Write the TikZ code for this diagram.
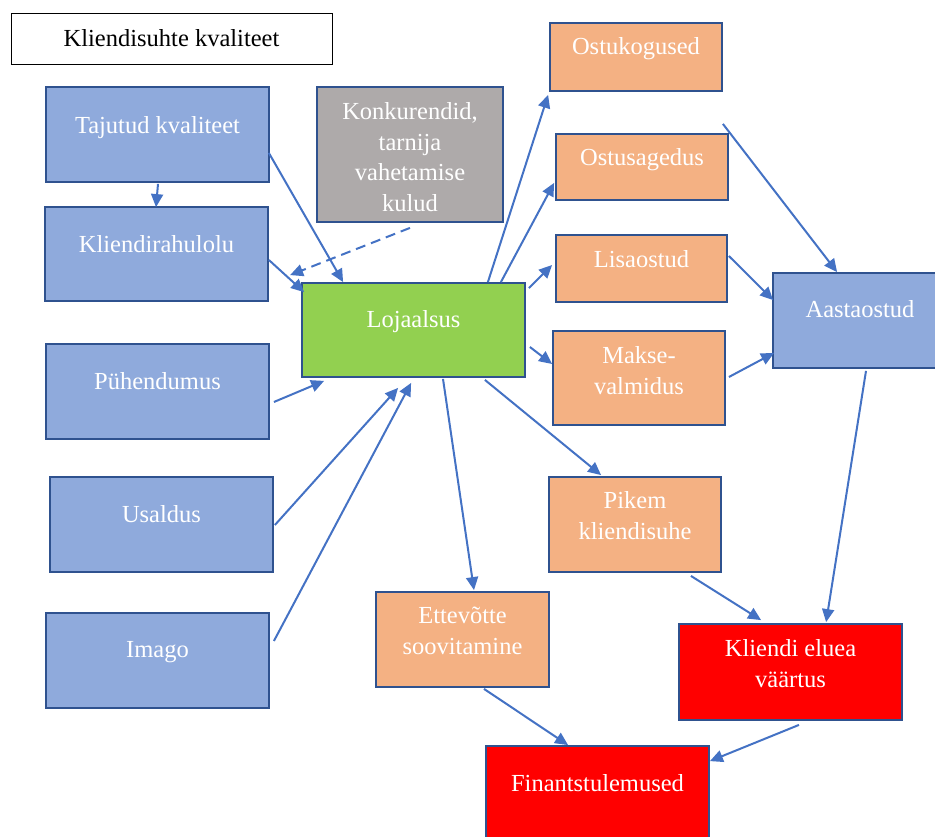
\documentclass[tikz,border=0pt]{standalone}
\usepackage{fontspec}
\setmainfont{Liberation Serif}
\usetikzlibrary{arrows.meta,calc}
\definecolor{bfill}{HTML}{8FAADC}
\definecolor{bdraw}{HTML}{2F528F}
\definecolor{ofill}{HTML}{F4B183}
\definecolor{gfill}{HTML}{92D050}
\definecolor{grfill}{HTML}{AEAAAA}
\definecolor{rfill}{HTML}{FF0000}
\definecolor{arr}{HTML}{4472C4}
\tikzset{
  box/.style={draw=bdraw, line width=1.8pt, rectangle, inner sep=0pt},
  bluebox/.style={box, fill=bfill},
  orbox/.style={box, fill=ofill},
  grbox/.style={box, fill=gfill},
  graybox/.style={box, fill=grfill},
  redbox/.style={box, fill=rfill},
  lbl/.style={anchor=base, text=white, align=center, inner sep=0pt,
    font=\fontsize{24.5}{30.5}\selectfont},
  conn/.style={draw=arr, line width=2pt, -{Triangle[length=13pt,width=12pt]}},
}
\begin{document}
\begin{tikzpicture}[x=1pt,y=-1pt]
\useasboundingbox (0,0) rectangle (935,837);
\clip (0,0) rectangle (935,837);
% title
\node[draw=black, line width=0.9pt, minimum width=321, minimum height=51, inner sep=0pt,
  font=\fontsize{24.5}{30.5}\selectfont] (title) at (171.5,38.5) {Kliendisuhte kvaliteet};
% boxes
\node[bluebox, minimum width=223, minimum height=95] (taj) at (157.5,134.5) {};
\node[bluebox, minimum width=223, minimum height=94] (kra) at (156.5,254) {};
\node[graybox, minimum width=186, minimum height=135] (kon) at (410,154.5) {};
\node[grbox, minimum width=223, minimum height=94] (loj) at (413.5,330) {};
\node[orbox, minimum width=172, minimum height=68] (ok) at (636,57) {};
\node[orbox, minimum width=172, minimum height=66] (os) at (642,167) {};
\node[orbox, minimum width=171, minimum height=67] (lis) at (641.5,268.5) {};
\node[orbox, minimum width=172, minimum height=94] (mak) at (639,378) {};
\node[bluebox, minimum width=174, minimum height=95] (aas) at (860,320.5) {};
\node[orbox, minimum width=172, minimum height=95] (pik) at (635,524.5) {};
\node[orbox, minimum width=173, minimum height=95] (ett) at (462.5,639.5) {};
\node[redbox, minimum width=223, minimum height=96] (kev) at (790.5,672) {};
\node[redbox, minimum width=223, minimum height=95] (fin) at (597.5,793.5) {};
\node[bluebox, minimum width=223, minimum height=95] (puh) at (157.5,391.5) {};
\node[bluebox, minimum width=223, minimum height=95] (usa) at (161.5,524.5) {};
\node[bluebox, minimum width=223, minimum height=95] (ima) at (157.5,660.5) {};
% labels (anchor = baseline of last line)
\node[lbl] (tajt) at ($(taj.north)+(0,47)$) {Tajutud kvaliteet};
\node[lbl] (krat) at ($(kra.north)+(0,46)$) {Kliendirahulolu};
\node[lbl] (kont) at ($(kon.north)+(0,125)$) {Konkurendid,\\tarnija\\vahetamise\\kulud};
\node[lbl] (lojt) at ($(loj.north)+(0,45)$) {Lojaalsus};
\node[lbl] (okt) at ($(ok.north)+(0,32)$) {Ostukogused};
\node[lbl] (ost) at ($(os.north)+(0,32)$) {Ostusagedus};
\node[lbl] (list) at ($(lis.north)+(0,33)$) {Lisaostud};
\node[lbl] (makt) at ($(mak.north)+(0,64)$) {Makse-\\valmidus};
\node[lbl] (aast) at ($(aas.north)+(0,45)$) {Aastaostud};
\node[lbl] (pikt) at ($(pik.north)+(0,63)$) {Pikem\\kliendisuhe};
\node[lbl] (ettt) at ($(ett.north)+(0,63)$) {Ettevõtte\\soovitamine};
\node[lbl] (kevt) at ($(kev.north)+(0,64)$) {Kliendi eluea\\väärtus};
\node[lbl] (fint) at ($(fin.north)+(0,46)$) {Finantstulemused};
\node[lbl] (puht) at ($(puh.north)+(0,46)$) {Pühendumus};
\node[lbl] (usat) at ($(usa.north)+(0,46)$) {Usaldus};
\node[lbl] (imat) at ($(ima.north)+(0,45)$) {Imago};
% connectors
\draw[conn] ($(taj.south)+(0.5,1)$) -- ($(kra.north)+(-0.5,1)$);
\draw[conn] ($(taj.east)+(-1,18.5)$) -- ($(loj.north west)+(42,0)$);
\draw[conn] ($(kra.east)+(0,6)$) -- ($(loj.north west)+(3,10)$);
\draw[conn, dash pattern=on 10pt off 6pt] ($(kon.south)+(0,5)$) -- ($(loj.north west)+(-11,-7)$);
\draw[conn] ($(loj.north east)+(-38,0)$) -- ($(ok.south west)+(-1,3)$);
\draw[conn] ($(loj.north east)+(-25,0)$) -- ($(os.south west)+(-1,-18)$);
\draw[conn] ($(loj.north east)+(3,6)$) -- ($(lis.west)+(-3,-3.5)$);
\draw[conn] ($(loj.east)+(4,17)$) -- ($(mak.west)+(0,-14)$);
\draw[conn] ($(ok.south east)+(0,32)$) -- ($(aas.north west)+(65,0)$);
\draw[conn] ($(lis.east)+(1,-12.5)$) -- ($(aas.north west)+(1,28)$);
\draw[conn] ($(mak.east)+(3,-1)$) -- ($(aas.south west)+(2,-16)$);
\draw[conn] ($(loj.south east)+(-41,2)$) -- ($(pik.north west)+(53,-1)$);
\draw[conn] ($(loj.south)+(29.5,1)$) -- ($(ett.north)+(11.5,-1)$);
\draw[conn] ($(puh.east)+(4,10.5)$) -- ($(loj.south west)+(23,3)$);
\draw[conn] ($(usa.east)+(1,0.5)$) -- ($(loj.south west)+(97,10)$);
\draw[conn] ($(ima.east)+(4,-19.5)$) -- ($(loj.south west)+(110,5)$);
\draw[conn] ($(ett.south)+(21.5,1)$) -- ($(fin.north west)+(83,0)$);
\draw[conn] ($(pik.south east)+(-31,3)$) -- ($(kev.north west)+(83,-3)$);
\draw[conn] ($(aas.south)+(6,2)$) -- ($(kev.north west)+(148,-1)$);
\draw[conn] ($(kev.south)+(8.5,4)$) -- ($(fin.north east)+(0,16)$);
\end{tikzpicture}
\end{document}
